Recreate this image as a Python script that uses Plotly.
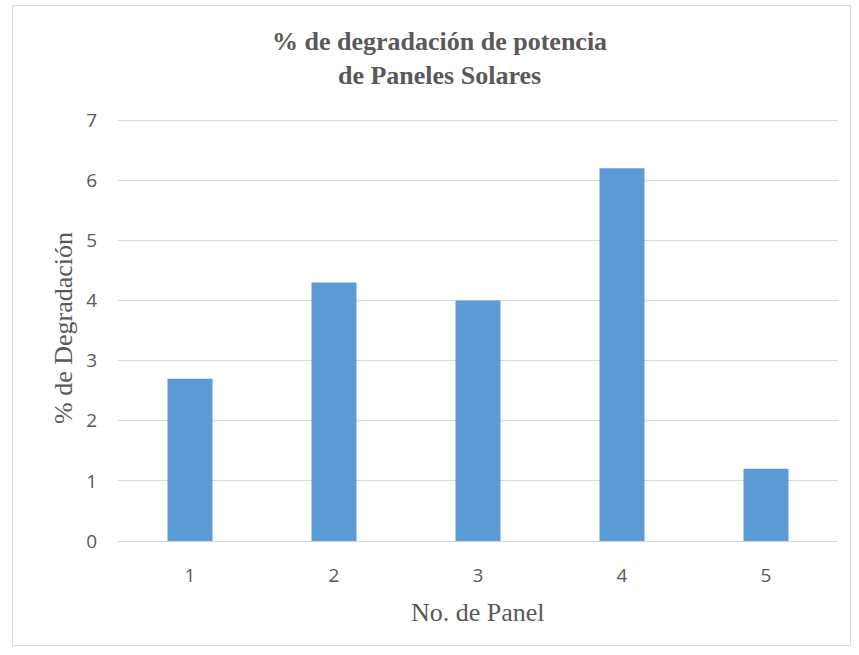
import plotly.graph_objects as go

# Panel numbers and measured power degradation (%)
paneles = ["1", "2", "3", "4", "5"]
degradacion = [2.7, 4.3, 4.0, 6.2, 1.2]
y_ticks = [0, 1, 2, 3, 4, 5, 6, 7]

W, H = 859, 655
L, R, T, B = 118, 21, 119, 114
pw, ph = W - L - R, H - T - B

SERIF = "Liberation Serif, Times New Roman, serif"
SANS = "Open Sans, Liberation Sans, sans-serif"
GREY = "#595959"


def px_x(x):
    return (x - L) / pw


def px_y(y):
    return (H - B - y) / ph


fig = go.Figure(
    go.Bar(
        x=paneles,
        y=degradacion,
        marker=dict(color="#5B9BD5", line=dict(width=0)),
        hoverinfo="x+y",
    )
)

fig.update_layout(
    width=W,
    height=H,
    margin=dict(l=L, r=R, t=T, b=B),
    paper_bgcolor="white",
    plot_bgcolor="white",
    bargap=0.6875,
    showlegend=False,
    xaxis=dict(
        type="category",
        showgrid=False,
        showline=True,
        linecolor="#D9D9D9",
        linewidth=1,
        ticks="",
        tickfont=dict(family=SANS, size=19, color=GREY),
        ticklabelstandoff=17,
    ),
    yaxis=dict(
        range=[0, 7.02],
        tickvals=y_ticks,
        showgrid=True,
        gridcolor="#D9D9D9",
        gridwidth=1,
        zeroline=False,
        showline=False,
        ticks="",
        tickfont=dict(family=SANS, size=19, color=GREY),
        ticklabelstandoff=20,
    ),
    annotations=[
        dict(
            text="<b>% de degradación de potencia<br>de Paneles Solares</b>",
            xref="paper", yref="paper",
            x=px_x(439), y=px_y(58),
            xanchor="center", yanchor="middle",
            showarrow=False, align="center",
            font=dict(family=SERIF, size=26, color=GREY),
        ),
        dict(
            text="No. de Panel",
            xref="paper", yref="paper",
            x=px_x(478), y=px_y(612),
            xanchor="center", yanchor="middle",
            showarrow=False,
            font=dict(family=SERIF, size=26, color=GREY),
        ),
        dict(
            text="% de Degradación",
            xref="paper", yref="paper",
            x=px_x(63), y=px_y(328),
            xanchor="center", yanchor="middle",
            textangle=-90,
            showarrow=False,
            font=dict(family=SERIF, size=26, color=GREY),
        ),
    ],
    shapes=[
        dict(
            type="rect",
            xref="paper", yref="paper",
            x0=px_x(12.5), x1=px_x(850.5),
            y0=px_y(645.5), y1=px_y(5.5),
            line=dict(color="#D9D9D9", width=1),
            fillcolor="rgba(0,0,0,0)",
            layer="below",
        )
    ],
)

fig.write_html("out.html")
